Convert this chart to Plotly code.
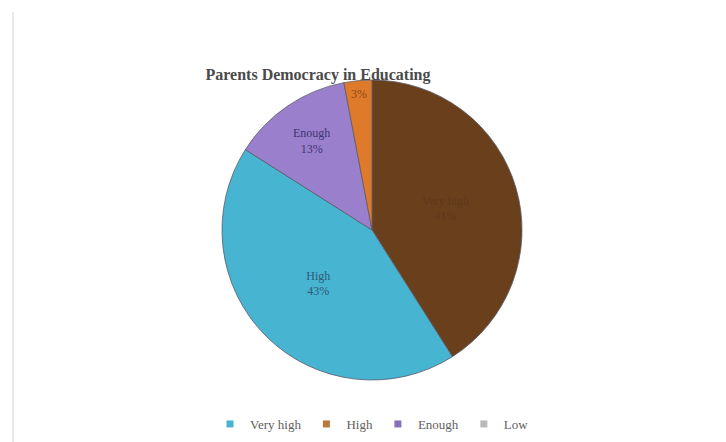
import plotly.graph_objects as go

# Data (clockwise from 12 o'clock)
slice_names = ["Very high", "High", "Enough", "Low"]
slice_values = [41, 43, 13, 3]
slice_text = ["Very high<br>41%", "High<br>43%", "Enough<br>13%", "3%"]
slice_colors = ["#6A3F1C", "#47B4D2", "#9A80CC", "#DF7A2A"]
text_colors = ["#5C391B", "#2E5C78", "#3E3470", "#8A4A1A"]

legend_labels = ["Very high", "High", "Enough", "Low"]
legend_colors = ["#47B4D2", "#B8783A", "#8A6FBF", "#B9B9B9"]

W, H = 726, 442
OFF = 8  # page body margin offset

def px_x(x):
    return (x - OFF) / W

def px_y(y):
    return 1 - (y - OFF) / H

fig = go.Figure()
fig.add_trace(go.Pie(
    labels=slice_names,
    values=slice_values,
    text=slice_text,
    textinfo="text",
    textposition="inside",
    insidetextorientation="horizontal",
    sort=False,
    direction="clockwise",
    rotation=0,
    marker=dict(colors=slice_colors, line=dict(color="#5a5a6a", width=0.8)),
    textfont=dict(family="Liberation Serif", size=12, color=text_colors),
    showlegend=False,
    hoverinfo="label+percent",
    domain=dict(x=[px_x(222), px_x(522)], y=[px_y(380), px_y(80)]),
))

for name, col in zip(legend_labels, legend_colors):
    fig.add_trace(go.Scatter(
        x=[None], y=[None], mode="markers", name=name,
        marker=dict(symbol="square", size=7, color=col),
    ))

fig.update_layout(
    width=W, height=H,
    margin=dict(l=0, r=0, t=0, b=0),
    paper_bgcolor="white", plot_bgcolor="white",
    title=dict(text="<b>Parents Democracy in Educating</b>", x=px_x(318), xanchor="center",
               y=px_y(74), yanchor="middle",
               font=dict(family="Liberation Serif", size=16, color="#4a4a4a")),
    xaxis=dict(visible=False), yaxis=dict(visible=False),
    legend=dict(orientation="h", x=px_x(372), xanchor="center", y=px_y(424), yanchor="middle",
                font=dict(family="Liberation Serif", size=13, color="#606060"),
                itemwidth=30, tracegroupgap=0),
    shapes=[dict(type="line", xref="paper", yref="paper", x0=px_x(13), x1=px_x(13),
                 y0=0, y1=px_y(12), line=dict(color="#e2e2e2", width=1.5))],
)

fig.write_html("out.html")
